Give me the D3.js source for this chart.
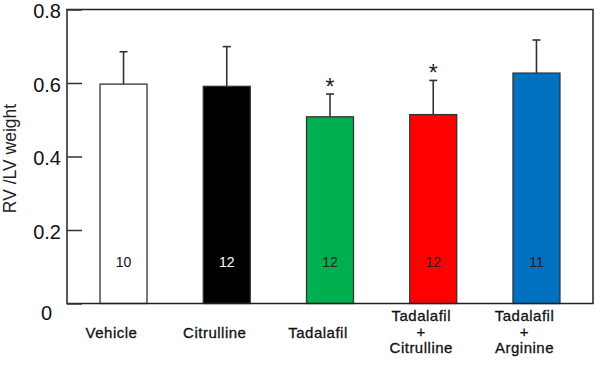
<!DOCTYPE html>
<html>
<head>
<meta charset="utf-8">
<script src="https://cdn.jsdelivr.net/npm/d3@7"></script>
<style>
  body { margin: 0; background: #fff; }
  text { font-family: Arial, "Liberation Sans", sans-serif; }
</style>
</head>
<body>
<svg></svg>
<script>
const groups = ["Vehicle", "Citrulline", "Tadalafil", "Tadalafil+Citrulline", "Tadalafil+Arginine"];
const labels = [["Vehicle"], ["Citrulline"], ["Tadalafil"], ["Tadalafil", "+", "Citrulline"], ["Tadalafil", "+", "Arginine"]];
const means = [0.597, 0.591, 0.508, 0.514, 0.627];
const sds = [0.088, 0.108, 0.062, 0.093, 0.090];
const counts = [10, 12, 12, 12, 11];
const signif = [false, false, true, true, false];
const colors = ["#ffffff", "#000000", "#00b050", "#ff0000", "#0070c0"];
const countColors = ["#111", "#fff", "#222", "#222", "#222"];
const yTicks = [0, 0.2, 0.4, 0.6, 0.8];

const width = 600;
const height = 370;
const margin = { top: 9.5, right: 7, bottom: 66.5, left: 67 };

const svg = d3.select("svg")
    .attr("width", width)
    .attr("height", height);

const x = d3.scaleBand()
    .domain(groups)
    .range([margin.left, width - margin.right])
    .paddingInner(0.545)
    .paddingOuter(0.32);

const y = d3.scaleLinear()
    .domain([0, 0.8])
    .range([height - margin.bottom, margin.top]);

const stroke = "#333";

// bars
svg.append("g")
    .selectAll("rect")
    .data(groups)
    .enter().append("rect")
    .attr("x", d => x(d))
    .attr("y", (d, i) => y(means[i]))
    .attr("width", x.bandwidth())
    .attr("height", (d, i) => y(0) - y(means[i]))
    .attr("fill", (d, i) => colors[i])
    .attr("stroke", stroke)
    .attr("stroke-width", 1.3);

// error bars (upper only)
const err = svg.append("g")
    .attr("stroke", stroke)
    .attr("stroke-width", 1.6);

groups.forEach((g, i) => {
    const cx = x(g) + x.bandwidth() / 2;
    err.append("line")
        .attr("x1", cx).attr("x2", cx)
        .attr("y1", y(means[i])).attr("y2", y(means[i] + sds[i]));
    err.append("line")
        .attr("x1", cx - 4).attr("x2", cx + 4)
        .attr("y1", y(means[i] + sds[i])).attr("y2", y(means[i] + sds[i]));
    if (signif[i]) {
        svg.append("text")
            .attr("x", cx)
            .attr("y", y(means[i] + sds[i]) + 1)
            .attr("text-anchor", "middle")
            .attr("font-size", 23)
            .attr("fill", "#222")
            .text("*");
    }
});

// n counts
svg.append("g")
    .selectAll("text")
    .data(groups)
    .enter().append("text")
    .attr("x", d => x(d) + x.bandwidth() / 2)
    .attr("y", 267)
    .attr("text-anchor", "middle")
    .attr("font-size", 14)
    .attr("fill", (d, i) => countColors[i])
    .text((d, i) => counts[i]);

// frame
svg.append("rect")
    .attr("x", margin.left)
    .attr("y", margin.top)
    .attr("width", width - margin.left - margin.right)
    .attr("height", height - margin.top - margin.bottom)
    .attr("fill", "none")
    .attr("stroke", "#222")
    .attr("stroke-width", 1.5);

// y axis, ticks pointing inward
const yAxis = svg.append("g")
    .attr("transform", `translate(${margin.left},0)`)
    .call(d3.axisLeft(y).tickValues(yTicks).tickSize(-15).tickPadding(6).tickFormat(d => d === 0 ? "0" : d3.format(".1f")(d)));

yAxis.select(".domain").remove();
yAxis.selectAll(".tick line").attr("stroke", stroke).attr("stroke-width", 1.5);
yAxis.selectAll(".tick text")
    .attr("font-size", 20)
    .attr("fill", "#111")
    .attr("font-family", "Arial, 'Liberation Sans', sans-serif")
    .attr("dy", d => d === 0 ? "0.8em" : "0.42em")
    .attr("x", d => d === 0 ? -15 : -6);

// y title
svg.append("text")
    .attr("transform", `translate(16,${(y(0) + y(0.8)) / 2 + 2}) rotate(-90)`)
    .attr("text-anchor", "middle")
    .attr("font-size", 17.5)
    .attr("fill", "#222")
    .text("RV /LV weight");

// x labels
const xl = svg.append("g")
    .selectAll("text")
    .data(groups)
    .enter().append("text")
    .attr("text-anchor", "middle")
    .attr("font-size", 15)
    .attr("letter-spacing", 0.5)
    .attr("fill", "#111")
    .attr("stroke", "#111")
    .attr("stroke-width", 0.3);

xl.each(function (d, i) {
    const lines = labels[i];
    const cx = x(d) + x.bandwidth() / 2 - 12;
    const y0 = lines.length === 1 ? 337.5 : 321;
    d3.select(this).selectAll("tspan")
        .data(lines)
        .enter().append("tspan")
        .attr("x", cx)
        .attr("y", (l, j) => y0 + j * 16.2)
        .text(l => l);
});
</script>
</body>
</html>
